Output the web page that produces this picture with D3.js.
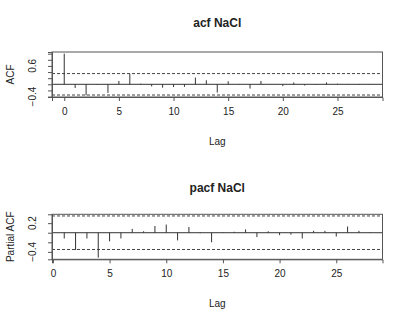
<!DOCTYPE html>
<html>
<head>
<meta charset="utf-8">
<script src="https://cdn.jsdelivr.net/npm/d3@7"></script>
<style>
  body { margin: 0; background: #fff; }
  text { font-family: "Liberation Sans", Arial, sans-serif; fill: #222; }
</style>
</head>
<body>
<script>
'use strict';

// lags and autocorrelations
const acfLags = d3.range(0, 29);
const acfValues = [1.0, -0.12, -0.36, -0.02, -0.28, 0.11, 0.34, 0.02, -0.07, -0.11,
  -0.09, -0.08, 0.22, 0.13, -0.27, 0.10, 0.01, -0.14, 0.11, 0.01,
  -0.06, 0.06, -0.04, -0.02, 0.06, 0.02, -0.01, -0.02, 0.01];

const pacfLags = d3.range(1, 29);
const pacfValues = [-0.12, -0.36, -0.12, -0.52, -0.18, -0.12, 0.08, 0.03, 0.14, 0.17,
  -0.16, 0.12, -0.01, -0.20, 0.01, 0.02, 0.07, -0.09, 0.03, -0.05,
  -0.04, -0.12, 0.04, 0.04, -0.08, 0.13, 0.04, 0.01];

// confidence bound (dashed lines)
const clim = 0.35;

const xTicks = [0, 5, 10, 15, 20, 25];
const acfYTicks = [-0.4, -0.2, 0, 0.2, 0.4, 0.6, 0.8, 1.0];
const acfYLabels = [-0.4, 0.6];
const pacfYTicks = [-0.4, -0.2, 0, 0.2];
const pacfYLabels = [-0.4, 0.2];

const width = 409, height = 325;

let svg = d3.select('body')
  .append('svg')
  .attr('width', width)
  .attr('height', height);

// R style: extend range by 4% on each side
function padRange(ext) {
  let d = (ext[1] - ext[0]) * 0.04;
  return [ext[0] - d, ext[1] + d];
}

function drawPanel(opts) {
  let box = opts.box;

  let xScale = d3.scaleLinear()
    .domain(padRange(d3.extent(opts.lags)))
    .range([box.left, box.right]);

  let yExt = d3.extent(opts.values.concat([-clim, clim]));
  let yScale = d3.scaleLinear()
    .domain(padRange(yExt))
    .range([box.bottom, box.top]);

  let g = svg.append('g');

  // dashed confidence lines
  [clim, -clim].forEach((c) => {
    g.append('line')
      .attr('x1', box.left).attr('x2', box.right)
      .attr('y1', yScale(c)).attr('y2', yScale(c))
      .attr('stroke', '#444')
      .attr('stroke-width', 1)
      .attr('stroke-dasharray', '3,2');
  });

  // zero line
  g.append('line')
    .attr('x1', box.left).attr('x2', box.right)
    .attr('y1', yScale(0)).attr('y2', yScale(0))
    .attr('stroke', '#333')
    .attr('stroke-width', 1);

  // spikes
  g.selectAll('.spike')
    .data(opts.lags.map((l, i) => ({ lag: l, v: opts.values[i] })))
    .enter()
    .append('line')
    .attr('x1', (d) => xScale(d.lag))
    .attr('x2', (d) => xScale(d.lag))
    .attr('y1', yScale(0))
    .attr('y2', (d) => yScale(d.v))
    .attr('stroke', '#333')
    .attr('stroke-width', 1);

  // frame
  g.append('rect')
    .attr('x', box.left)
    .attr('y', box.top)
    .attr('width', box.right - box.left)
    .attr('height', box.bottom - box.top)
    .attr('fill', 'none')
    .attr('stroke', '#555')
    .attr('stroke-width', 1);

  // x axis
  let xAxis = d3.axisBottom(xScale)
    .tickValues(xTicks)
    .tickSize(4)
    .tickPadding(7)
    .tickFormat(d3.format('d'));
  let xa = g.append('g')
    .attr('transform', 'translate(0,' + box.bottom + ')')
    .call(xAxis);
  xa.select('.domain').attr('stroke', '#555');
  xa.selectAll('.tick line').attr('stroke', '#555');
  xa.selectAll('.tick text')
    .attr('font-size', '10px')
    .attr('fill', '#222');

  // y axis
  let yAxis = d3.axisLeft(yScale)
    .tickValues(opts.yTicks)
    .tickSize(4)
    .tickFormat(() => '');
  let ya = g.append('g')
    .attr('transform', 'translate(' + box.left + ',0)')
    .call(yAxis);
  ya.select('.domain').attr('stroke', '#555');
  ya.selectAll('.tick line').attr('stroke', '#555');

  // rotated y tick labels (only those R prints)
  g.selectAll('.ylab')
    .data(opts.yLabels)
    .enter()
    .append('text')
    .attr('transform', (d) => 'translate(' + (box.left - 16) + ',' + yScale(d) + ')rotate(-90)')
    .attr('text-anchor', 'middle')
    .style('font-size', '10px')
    .text((d) => d3.format('.1f')(d));

  // title
  svg.append('text')
    .attr('x', (box.left + box.right) / 2)
    .attr('y', opts.titleY)
    .attr('text-anchor', 'middle')
    .style('font-size', '12px')
    .style('font-weight', 'bold')
    .text(opts.title);

  // x label
  svg.append('text')
    .attr('x', (box.left + box.right) / 2)
    .attr('y', box.bottom + 48)
    .attr('text-anchor', 'middle')
    .style('font-size', '10px')
    .text('Lag');

  // y label
  svg.append('text')
    .attr('transform', 'translate(14,' + (box.top + box.bottom) / 2 + ')rotate(-90)')
    .attr('text-anchor', 'middle')
    .style('font-size', '10px')
    .text(opts.ylab);
}

drawPanel({
  lags: acfLags,
  values: acfValues,
  yTicks: acfYTicks,
  yLabels: acfYLabels,
  box: { left: 52, right: 382.5, top: 52, bottom: 97 },
  title: 'acf NaCl',
  titleY: 27,
  ylab: 'ACF'
});

drawPanel({
  lags: pacfLags,
  values: pacfValues,
  yTicks: pacfYTicks,
  yLabels: pacfYLabels,
  box: { left: 52, right: 382.5, top: 214.3, bottom: 259.3 },
  title: 'pacf NaCl',
  titleY: 192,
  ylab: 'Partial ACF'
});
</script>
</body>
</html>
